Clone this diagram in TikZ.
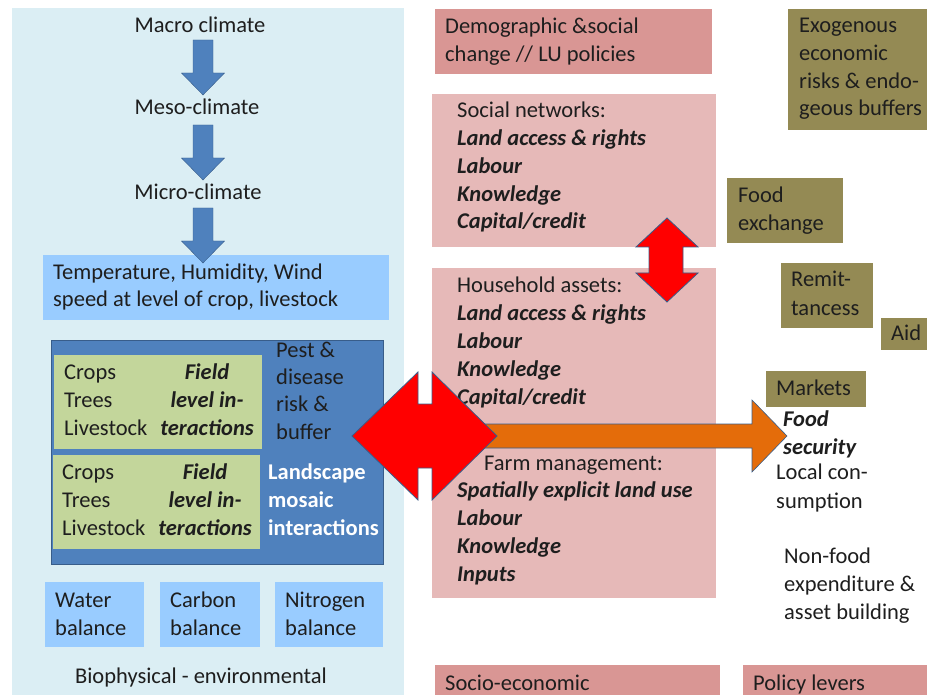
\documentclass[tikz,border=0pt]{standalone}
\usepackage{fontspec}
\setmainfont{Carlito}
\usetikzlibrary{positioning, calc}
\definecolor{biocol}{RGB}{219,238,244}
\definecolor{lightblue}{RGB}{153,204,255}
\definecolor{darkblue}{RGB}{79,129,189}
\definecolor{darkline}{RGB}{56,93,138}
\definecolor{fieldcol}{RGB}{195,214,155}
\definecolor{rosecol}{RGB}{217,150,148}
\definecolor{palerose}{RGB}{230,185,184}
\definecolor{olivecol}{RGB}{148,138,84}
\definecolor{orangecol}{RGB}{228,108,10}
\definecolor{textcol}{RGB}{30,30,30}
\newcommand{\fs}{\fontsize{22.5}{27.7}\selectfont}

\begin{document}
\begin{tikzpicture}[
			x=1pt, y=-1pt,
			box/.style={
				anchor=north west,
				inner sep=0,
				outer sep=0
			},
			txt/.style={
				anchor=base west,
				inner sep=0,
				align=left,
				font=\fs,
				text=textcol
			},
			bi/.style={
				font=\fs\bfseries\itshape
			},
			bluearrow/.style={
				fill=darkblue,
				draw=darkline,
				line width=0.4pt
			},
			redarrow/.style={
				fill=red,
				draw=darkline,
				line width=0.8pt
			},
			pics/climarrow/.style={
				code={
					\path[bluearrow] (-10,0) -- (10,0) -- (10,33) -- (21.5,33)
					-- (0,55) -- (-21.5,33) -- (-10,33) -- cycle;
				}
			}
			]
			\useasboundingbox (0,0) rectangle (927,695);
			
			% Biophysical panel
			\node[box, fill=biocol, minimum width=392, minimum height=687] (bio) at (12,8) {};
			\node[box, fill=lightblue, minimum width=346, minimum height=65] (micro) at (43,255) {};
			\node[box, fill=darkblue, draw=darkline, minimum width=332, minimum height=224] (mosaic) at (51,340) {};
			\node[box, fill=fieldcol, minimum width=208, minimum height=94] (field1) at (54,355) {};
			\node[box, fill=fieldcol, minimum width=207, minimum height=94] (field2) at (53,455) {};
			\node[box, fill=lightblue, minimum width=99, minimum height=65] (water) at (45,582) {};
			\node[box, fill=lightblue, minimum width=100, minimum height=65] (carbon) at (160,582) {};
			\node[box, fill=lightblue, minimum width=108, minimum height=65] (nitrogen) at (275,582) {};
			
			% Socio-economic boxes
			\node[box, fill=rosecol, minimum width=277, minimum height=65] (demog) at (435,9) {};
			\node[box, fill=palerose, minimum width=284, minimum height=153] (social) at (432,94) {};
			\node[box, fill=palerose, minimum width=284, minimum height=330] (house) at (432,268) {};
			\node[box, fill=rosecol, minimum width=285, minimum height=30] (socio) at (435,665) {};
			\node[box, fill=rosecol, minimum width=184, minimum height=30] (policy) at (743,665) {};
			
			% Policy lever boxes
			\node[box, fill=olivecol, minimum width=139, minimum height=121] (exo) at (788,9) {};
			\node[box, fill=olivecol, minimum width=116, minimum height=65] (exch) at (727,178) {};
			\node[box, fill=olivecol, minimum width=92, minimum height=65] (remit) at (781,263) {};
			\node[box, fill=olivecol, minimum width=46, minimum height=32] (aid) at (881,318) {};
			\node[box, fill=olivecol, minimum width=100, minimum height=36] (markets) at (766,371) {};
			
			% Climate arrows
			\pic at (203,40) {climarrow};
			\pic at (203,125) {climarrow};
			\pic at (203,208) {climarrow};
			
			% Texts (multi-line nodes sit on their last baseline)
			\node[txt, anchor=base] (macrot) at (200,33) {Macro climate};
			\node[txt, anchor=base] (mesot) at (197,115) {Meso-climate};
			\node[txt, anchor=base] (microt) at (198,200) {Micro-climate};
			\node[txt] (tempt) at (53,307) {Temperature, Humidity, Wind\\speed at level of crop, livestock};
			\node[txt, font=\fontsize{22.5}{28}\selectfont] (crops1) at (64,435) {Crops\\Trees\\Livestock};
			\node[txt, font=\fontsize{22.5}{28}\selectfont\bfseries\itshape, anchor=base, align=center] (inter1) at (207,435) {Field\\level in-\\teractions};
			\node[txt, font=\fontsize{22.5}{28}\selectfont] (crops2) at (62,535) {Crops\\Trees\\Livestock};
			\node[txt, font=\fontsize{22.5}{28}\selectfont\bfseries\itshape, anchor=base, align=center] (inter2) at (205,535) {Field\\level in-\\teractions};
			\node[txt, font=\fontsize{22.5}{27.3}\selectfont] (pest) at (276,439) {Pest \&\\disease\\risk \&\\buffer};
			\node[txt, text=white, font=\fs\bfseries] (landt) at (268,535) {Landscape\\mosaic\\interactions};
			\node[txt, font=\fontsize{22.5}{28}\selectfont] (watert) at (55,635) {Water\\balance};
			\node[txt, font=\fontsize{22.5}{28}\selectfont] (carbont) at (170,635) {Carbon\\balance};
			\node[txt, font=\fontsize{22.5}{28}\selectfont] (nitrot) at (285,635) {Nitrogen\\balance};
			\node[txt, anchor=base] (biot) at (201,683) {Biophysical - environmental};
			
			\node[txt, font=\fontsize{22.5}{28}\selectfont] (demogt) at (445,62) {Demographic \&social\\change // LU policies};
			\node[txt] (socialt) at (457,118) {Social networks:};
			\node[txt, bi] (sociall) at (457,229) {Land access \& rights\\Labour\\Knowledge\\Capital/credit};
			\node[txt] (houset) at (457,293) {Household assets:};
			\node[txt, bi] (housel) at (457,404) {Land access \& rights\\Labour\\Knowledge\\Capital/credit};
			\node[txt] (farmt) at (484,470) {Farm management:};
			\node[txt, bi] (farml) at (457,581) {Spatially explicit land use\\Labour\\Knowledge\\Inputs};
			\node[txt] (sociot) at (445,690) {Socio-economic};
			\node[txt] (policyt) at (753,690) {Policy levers};
			
			\node[txt] (exot) at (799,116) {Exogenous\\economic\\risks \& endo-\\geous buffers};
			\node[txt, font=\fontsize{22.5}{28}\selectfont] (excht) at (738,231) {Food\\exchange};
			\node[txt, font=\fontsize{22.5}{29}\selectfont] (remitt) at (791,316) {Remit-\\tancess};
			\node[txt] (aidt) at (891,341) {Aid};
			\node[txt] (marketst) at (776,395) {Markets};
			\node[txt, font=\fontsize{22.5}{28}\selectfont\bfseries\itshape] (secur) at (783,454) {Food\\security};
			\node[txt, font=\fontsize{22.5}{29}\selectfont] (local) at (776,508) {Local con-\\sumption};
			\node[txt] (nonfood) at (784,619) {Non-food\\expenditure \&\\asset building};
			
			% Block arrows
			\path[fill=orangecol, draw=darkline, line width=0.6pt]
			(450,424) -- (752,424) -- (752,400) -- (787,436) -- (752,472) -- (752,448) -- (450,448) -- cycle;
			\path[redarrow]
			(352,436) -- (418,372) -- (418,404) -- (432,404) -- (432,372) -- (497,436)
			-- (432,500) -- (432,468) -- (418,468) -- (418,500) -- cycle;
			\path[redarrow]
			(667,218) -- (698,247) -- (683,247) -- (683,273) -- (698,273) -- (667,302)
			-- (636,273) -- (649,273) -- (649,247) -- (636,247) -- cycle;
		\end{tikzpicture}
\end{document}
